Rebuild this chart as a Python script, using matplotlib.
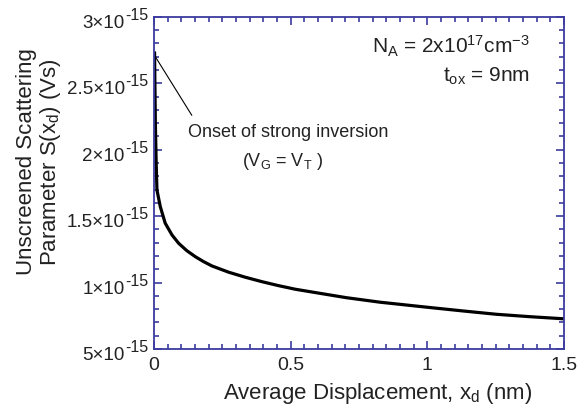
import matplotlib
matplotlib.use("Agg")
import matplotlib.pyplot as plt
from matplotlib.ticker import MultipleLocator, FixedLocator, NullFormatter

plt.rcParams['font.family'] = ['Liberation Sans', 'DejaVu Sans']
plt.rcParams['mathtext.fontset'] = 'custom'
plt.rcParams['mathtext.rm'] = 'Liberation Sans'
plt.rcParams['mathtext.it'] = 'Liberation Sans:italic'
plt.rcParams['mathtext.default'] = 'regular'

# curve (x in nm, S in units of 1e-15 Vs)
xd = [0.002, 0.005, 0.008, 0.0108, 0.023, 0.041, 0.066, 0.090, 0.120, 0.151,
      0.181, 0.212, 0.273, 0.334, 0.394, 0.455, 0.516, 0.583, 0.704, 0.827,
      1.0, 1.131, 1.253, 1.375, 1.5]
S = [2.74, 2.20, 1.90, 1.697, 1.572, 1.447, 1.358, 1.296, 1.240, 1.195,
     1.158, 1.125, 1.078, 1.040, 1.007, 0.977, 0.950, 0.927, 0.886, 0.852,
     0.814, 0.786, 0.761, 0.743, 0.727]

yticks = [0.5, 1.0, 1.5, 2.0, 2.5, 3.0]
ytick_base = ["5×10", "1×10", "1.5×10", "2×10", "2.5×10", "3×10"]
ytick_exp = "-15"
xticks = [0, 0.5, 1, 1.5]
xticklabels = ["0", "0.5", "1", "1.5"]

AXCOL = "#3c3ca0"
TXT = "#222222"

fig = plt.figure(figsize=(5.8, 4.12), dpi=100)
ax = fig.add_axes([0.2655, 0.153, 0.707, 0.806])

ax.plot(xd, S, color="black", lw=2.3, solid_capstyle="butt", solid_joinstyle="round")

ax.set_xlim(0, 1.5)
ax.set_ylim(0.5, 3.0)

ax.xaxis.set_major_locator(FixedLocator(xticks))
ax.set_xticklabels(xticklabels)
ax.xaxis.set_minor_locator(MultipleLocator(0.05))
ax.yaxis.set_major_locator(FixedLocator(yticks))
ax.yaxis.set_major_formatter(NullFormatter())
ax.yaxis.set_minor_locator(MultipleLocator(0.1))

ax.tick_params(which="both", direction="in", top=True, right=True,
               color=AXCOL, labelcolor=TXT)
ax.tick_params(which="major", length=6, width=1.2)
ax.tick_params(which="minor", length=3.5, width=1.2)
ax.tick_params(axis="x", labelsize=14, pad=6)
for sp in ax.spines.values():
    sp.set_color(AXCOL)
    sp.set_linewidth(1.3)

# y tick labels: mantissa + large superscript exponent, like the original
for v, base in zip(yticks, ytick_base):
    sup = ax.annotate(ytick_exp, xy=(0, v), xycoords=("axes fraction", "data"),
                      xytext=(-6, -3), textcoords="offset pixels",
                      ha="right", va="baseline", fontsize=11.5, color=TXT,
                      annotation_clip=False)
    ax.annotate(base, xy=(0, 0), xycoords=sup, xytext=(0, -5),
                textcoords="offset pixels", ha="right", va="baseline",
                fontsize=13.5, color=TXT, annotation_clip=False)

ax.set_xlabel("Average Displacement, x$_d$ (nm)", fontsize=16, color=TXT)
ax.xaxis.set_label_coords(0.546, -0.095)
ax.set_ylabel("Unscreened Scattering\nParameter S(x$_d$) (Vs)", fontsize=16,
              color=TXT, linespacing=1.05)
ax.yaxis.set_label_coords(-0.222, 0.563)

# annotation
ax.plot([0.005, 0.138], [2.70, 2.26], color="black", lw=0.8)
ax.text(0.49, 2.13, "Onset of strong inversion", fontsize=13, color=TXT,
        ha="center", va="center")
ax.text(0.47, 1.91, "(V$_G$ = V$_T$ )", fontsize=13, color=TXT,
        ha="center", va="center")

ax.text(1.375, 2.775, "N$_A$ = 2x10$^{17}$cm$^{-3}$", fontsize=15, color=TXT,
        ha="right", va="center")
ax.text(1.375, 2.55, "t$_{ox}$ = 9nm", fontsize=15, color=TXT,
        ha="right", va="center")

fig.savefig("out.png", dpi=100)
